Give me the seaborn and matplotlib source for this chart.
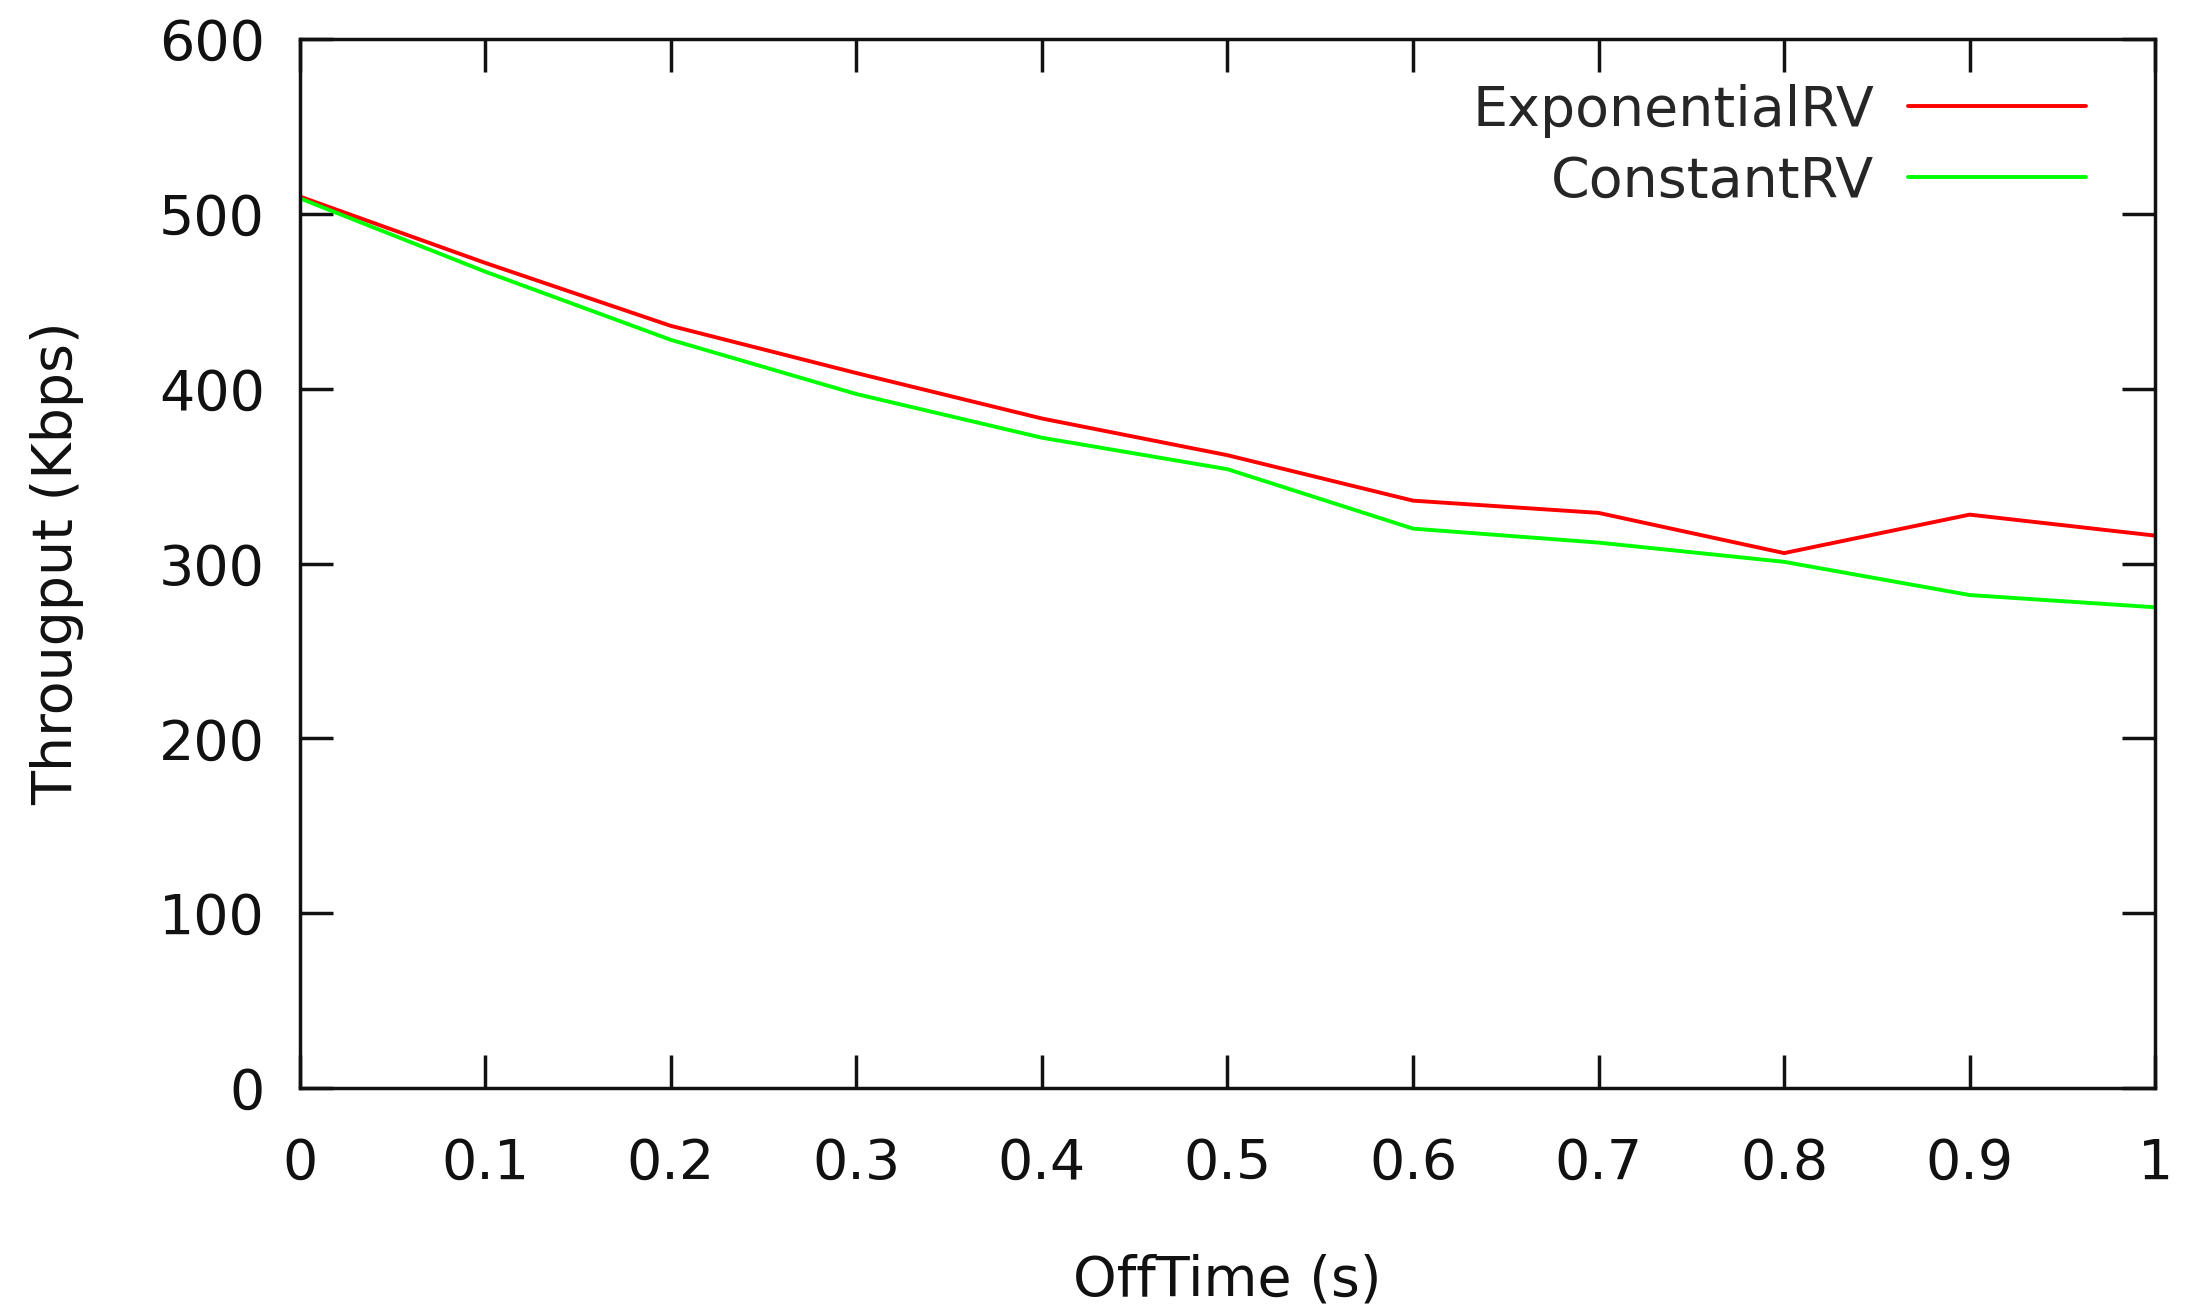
import matplotlib
matplotlib.use("Agg")
import matplotlib.pyplot as plt
import pandas as pd
import seaborn as sns

# values
off_time = [0.0, 0.1, 0.2, 0.3, 0.4, 0.5, 0.6, 0.7, 0.8, 0.9, 1.0]
exponential_rv = [510, 472, 436, 409, 383, 362, 336, 329, 306, 328, 316]
constant_rv = [509, 467, 428, 397, 372, 354, 320, 312, 301, 282, 275]

x_ticks = [0.0, 0.1, 0.2, 0.3, 0.4, 0.5, 0.6, 0.7, 0.8, 0.9, 1.0]
x_ticklabels = ["0", "0.1", "0.2", "0.3", "0.4", "0.5", "0.6", "0.7", "0.8", "0.9", "1"]
y_ticks = [0, 100, 200, 300, 400, 500, 600]

df = pd.DataFrame({
    "OffTime": off_time * 2,
    "Throughput": exponential_rv + constant_rv,
    "series": ["ExponentialRV"] * len(off_time) + ["ConstantRV"] * len(off_time),
})

sns.set_style("ticks")
plt.rcParams["font.family"] = ["DejaVu Sans"]

fig = plt.figure(figsize=(21.88, 13.07), dpi=100)
ax = fig.add_axes([0.137, 0.1676, 0.848, 0.8024])

sns.lineplot(data=df, x="OffTime", y="Throughput", hue="series",
             palette={"ExponentialRV": "#ff0000", "ConstantRV": "#00ff00"},
             linewidth=2.8, ax=ax)

ax.set_xlim(0, 1)
ax.set_ylim(0, 600)
ax.set_xticks(x_ticks)
ax.set_xticklabels(x_ticklabels)
ax.set_yticks(y_ticks)

for s in ax.spines.values():
    s.set_visible(True)
    s.set_linewidth(2.5)
    s.set_color("#111111")
ax.tick_params(direction="in", length=24, width=2.5, top=True, right=True,
               labelsize=40, color="#111111", labelcolor="#111111")
ax.tick_params(axis="x", pad=35)
ax.tick_params(axis="y", pad=25)

ax.set_xlabel("OffTime (s)", fontsize=40, labelpad=45, color="#111111")
ax.set_ylabel("Througput (Kbps)", fontsize=40, labelpad=54, color="#111111")

ax.legend(loc="upper right", bbox_to_anchor=(0.9865, 1.0), frameon=False,
          markerfirst=False, fontsize=40, handlelength=3.2, handletextpad=0.6,
          labelspacing=0.3, borderaxespad=0.4)

fig.savefig("out.png", dpi=100)
